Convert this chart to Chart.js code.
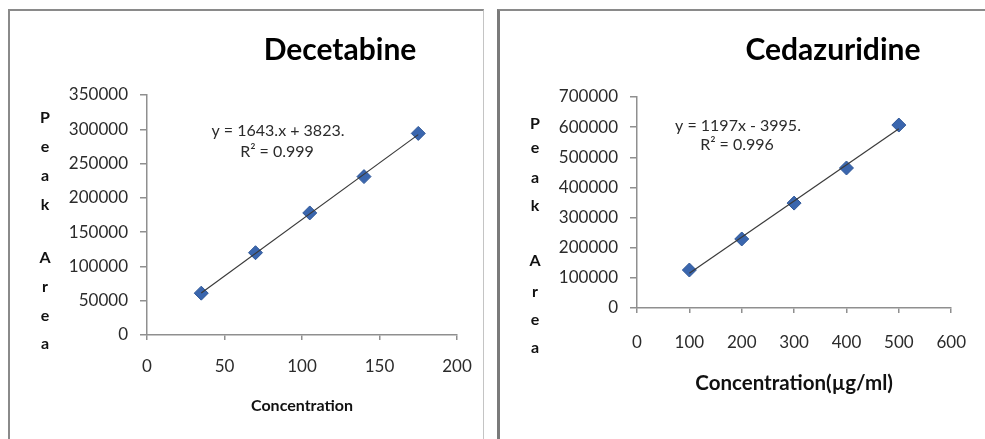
<!DOCTYPE html>
<html>
<head>
<meta charset="utf-8">
<script src="https://cdn.jsdelivr.net/npm/chart.js@4"></script>
<style>
  body { margin: 0; width: 985px; height: 439px; background: #fff; overflow: hidden; position: relative; }
  .frame { position: absolute; box-sizing: border-box; }
  #frameA { left: 8px; top: 9px; width: 476px; height: 440px; border-top: 2px solid #8a8a8a; border-left: 2px solid #8a8a8a; border-right: 1px solid #c4c4c4; }
  #frameB { left: 497px; top: 9px; width: 500px; height: 440px; border-top: 2px solid #8a8a8a; border-left: 3px solid #7a7a7a; }
  .box { position: absolute; top: 0; }
  #boxA { left: 0; }
  #boxB { left: 490px; }
</style>
</head>
<body>
<div class="frame" id="frameA"></div>
<div class="frame" id="frameB"></div>
<div class="box" id="boxA"><canvas id="chartDec" width="490" height="439"></canvas></div>
<div class="box" id="boxB"><canvas id="chartCed" width="495" height="439"></canvas></div>
<script>
// Decetabine calibration
const decConc = [35, 70, 105, 140, 175];
const decArea = [61000, 120000, 178000, 231000, 294000];
const decXTicks = [0, 50, 100, 150, 200];
const decYTicks = [0, 50000, 100000, 150000, 200000, 250000, 300000, 350000];

// Cedazuridine calibration
const cedConc = [100, 200, 300, 400, 500];
const cedArea = [126000, 229000, 348000, 464500, 607000];
const cedXTicks = [0, 100, 200, 300, 400, 500, 600];
const cedYTicks = [0, 100000, 200000, 300000, 400000, 500000, 600000, 700000];

const FONT = "Lato, 'Open Sans', sans-serif";
const axisGray = "#8f8f8f";
const tickColor = "#2b2b2b";

// least squares trendline, like the spreadsheet did
function trend(xs, ys) {
  const n = xs.length;
  const mx = xs.reduce((a, b) => a + b, 0) / n;
  const my = ys.reduce((a, b) => a + b, 0) / n;
  let sxy = 0, sxx = 0;
  xs.forEach((x, i) => { sxy += (x - mx) * (ys[i] - my); sxx += (x - mx) * (x - mx); });
  const m = sxy / sxx, b = my - m * mx;
  const x0 = xs[0], x1 = xs[n - 1];
  return [{ x: x0, y: m * x0 + b }, { x: x1, y: m * x1 + b }];
}

const textPlugin = {
  id: "texts",
  afterDraw(chart, args, o) {
    const ctx = chart.ctx;
    const ca = chart.chartArea;
    ctx.save();
    ctx.textAlign = "center";
    ctx.textBaseline = "middle";
    ctx.fillStyle = "#000";
    ctx.font = "bold 30px " + FONT;
    ctx.fillText(o.title, o.titleX, 50);

    ctx.fillStyle = "#2b2b2b";
    ctx.font = "16px " + FONT;
    o.eq.forEach((t, i) => ctx.fillText(t, o.eqX[i], o.eqY[i]));

    ctx.fillStyle = "#111";
    ctx.font = "bold 16px " + FONT;
    o.letters.forEach((c, i) => ctx.fillText(c, 45, o.letterY[i]));

    ctx.font = "bold " + o.xTitleSize + "px " + FONT;
    ctx.fillText(o.xTitle, (ca.left + ca.right) / 2, o.xTitleY);
    ctx.restore();
  }
};

function makeChart(id, xs, ys, xt, yt, cfg) {
  new Chart(document.getElementById(id), {
    type: "scatter",
    data: {
      datasets: [
        {
          data: trend(xs, ys),
          type: "line",
          borderColor: "#3a3a3a",
          borderWidth: 1.2,
          pointRadius: 0,
          fill: false,
          order: 0,
        },
        {
          data: xs.map((x, i) => ({ x: x, y: ys[i] })),
          pointStyle: "rectRot",
          pointRadius: 7,
          backgroundColor: "#3A66AE",
          borderColor: "#2F5797",
          borderWidth: 1,
          order: 1,
        },
      ],
    },
    options: {
      responsive: false,
      animation: false,
      layout: { padding: { left: 0, top: cfg.top, right: cfg.right, bottom: 0 } },
      plugins: {
        legend: { display: false },
        tooltip: { enabled: false },
        texts: cfg.texts,
      },
      scales: {
        x: {
          type: "linear",
          min: xt[0],
          max: xt[xt.length - 1],
          afterBuildTicks(s) { s.ticks = xt.map(v => ({ value: v })); },
          ticks: { color: tickColor, font: { family: FONT, size: 17 }, padding: cfg.xPad, maxRotation: 0 },
          grid: { drawOnChartArea: false, drawTicks: true, tickLength: 5, color: axisGray, lineWidth: 1.5 },
          border: { color: axisGray, width: 1.5 },
          afterFit(s) { s.height = cfg.xh; },
        },
        y: {
          type: "linear",
          min: yt[0],
          max: yt[yt.length - 1],
          afterBuildTicks(s) { s.ticks = yt.map(v => ({ value: v })); },
          ticks: { color: tickColor, font: { family: FONT, size: 17 }, padding: 12, callback: v => String(v) },
          grid: { drawOnChartArea: false, drawTicks: true, tickLength: 7, color: axisGray, lineWidth: 1.5 },
          border: { color: axisGray, width: 1.5 },
          afterFit(s) { s.width = 147; },
        },
      },
    },
    plugins: [textPlugin],
  });
}

makeChart("chartDec", decConc, decArea, decXTicks, decYTicks, {
  top: 95, right: 33, xh: 104, xPad: 16,
  texts: {
    title: "Decetabine", titleX: 340,
    eq: ["y = 1643.x + 3823.", "R\u00b2 = 0.999"], eqX: [278, 277], eqY: [131, 152],
    letters: ["P", "e", "a", "k", "A", "r", "e", "a"],
    letterY: [118, 147, 176, 205, 258, 287, 316, 344],
    xTitle: "Concentration", xTitleSize: 16, xTitleY: 406,
  },
});

makeChart("chartCed", cedConc, cedArea, cedXTicks, cedYTicks, {
  top: 97, right: 15, xh: 131, xPad: 19,
  texts: {
    title: "Cedazuridine", titleX: 343,
    eq: ["y = 1197x - 3995.", "R\u00b2 = 0.996"], eqX: [248, 247], eqY: [126, 145],
    letters: ["P", "e", "a", "k", "A", "r", "e", "a"],
    letterY: [124, 148, 178, 206, 261, 292, 320, 348],
    xTitle: "Concentration(\u00b5g/ml)", xTitleSize: 20.5, xTitleY: 383,
  },
});
</script>
</body>
</html>
